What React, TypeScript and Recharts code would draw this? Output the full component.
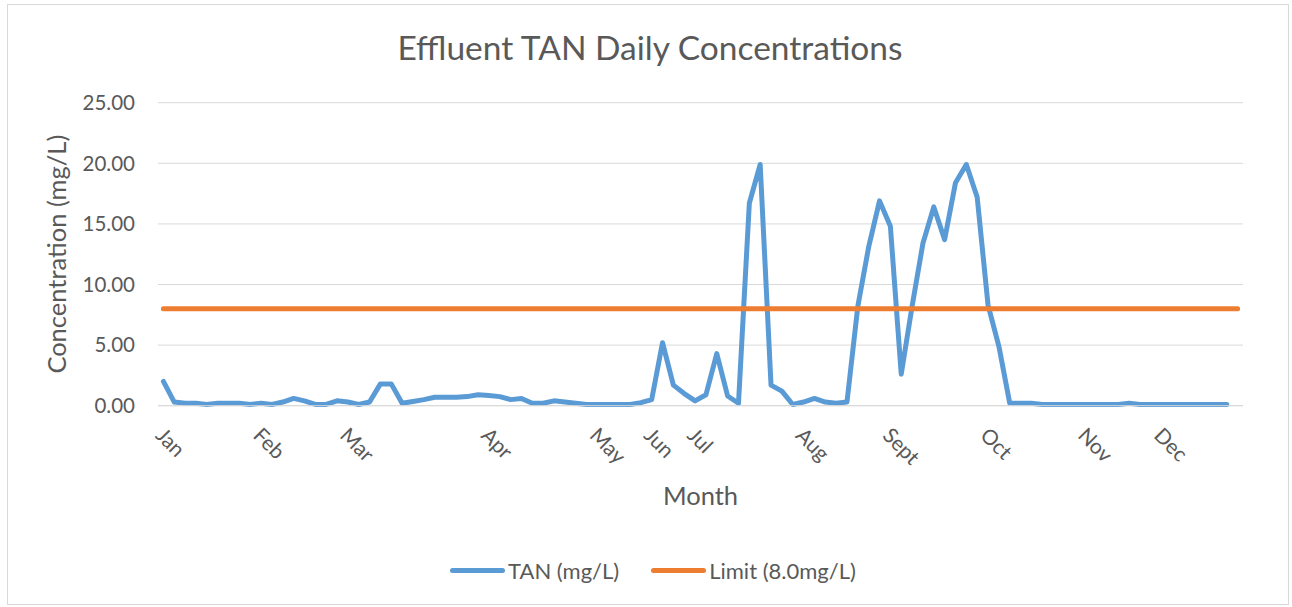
import React from 'react';
import { LineChart, Line, XAxis, YAxis, CartesianGrid, Legend } from 'recharts';

// category axis: 100 daily samples, month label only on the first sample of each month
const monthLabels = ['Jan', 'Feb', 'Mar', 'Apr', 'May', 'Jun', 'Jul', 'Aug', 'Sept', 'Oct', 'Nov', 'Dec'];
const monthStartIndex = [0, 9, 17, 30, 40, 45, 49, 59, 67, 76, 85, 92];
const CATEGORY_COUNT = 100;

// TAN (mg/L), one value per sample
const tanValues = [
    2.0, 0.3, 0.2, 0.2, 0.1, 0.2, 0.2, 0.2, 0.1, 0.2,
    0.1, 0.3, 0.6, 0.4, 0.1, 0.1, 0.4, 0.3, 0.1, 0.3,
    1.8, 1.8, 0.2, 0.35, 0.5, 0.7, 0.7, 0.7, 0.75, 0.9,
    0.85, 0.75, 0.5, 0.6, 0.2, 0.2, 0.4, 0.3, 0.2, 0.1,
    0.1, 0.1, 0.1, 0.1, 0.25, 0.5, 5.2, 1.7, 1.0, 0.4,
    0.9, 4.3, 0.8, 0.2, 16.7, 19.9, 1.7, 1.2, 0.1, 0.3,
    0.6, 0.3, 0.2, 0.3, 8.2, 13.1, 16.9, 14.8, 2.6, 8.2,
    13.4, 16.4, 13.7, 18.4, 19.9, 17.2, 8.3, 4.9, 0.2, 0.2,
    0.2, 0.1, 0.1, 0.1, 0.1, 0.1, 0.1, 0.1, 0.1, 0.2,
    0.1, 0.1, 0.1, 0.1, 0.1, 0.1, 0.1, 0.1, 0.1,
];

const LIMIT = 8.0;
const yTicks = [0, 5, 10, 15, 20, 25];

const categoryLabels = Array.from({ length: CATEGORY_COUNT }, (_, i) => {
    const m = monthStartIndex.indexOf(i);
    return m >= 0 ? monthLabels[m] : '';
});

const data = categoryLabels.map((label, i) => ({
    idx: i,
    label,
    tan: i < tanValues.length ? tanValues[i] : null,
    limit: LIMIT,
}));

const FONT = 'Lato, "Open Sans", sans-serif';
const TEXT = '#595959';
const GRID = '#d9d9d9';
const BLUE = '#5b9bd5';
const ORANGE = '#ed7d31';

const W = 1292;
const H = 607;
const PLOT_LEFT = 158;
const PLOT_RIGHT = 1243;
const PLOT_TOP = 102.7;
const PLOT_BOTTOM = 405.7;
const Y_AXIS_W = 100;
const X_AXIS_H = 60;

const YTick = ({ y, payload }: any) => (
    <text x={PLOT_LEFT - 23} y={y} dy="0.36em" textAnchor="end" fill={TEXT} fontSize={20.5} fontFamily={FONT}>
        {Number(payload.value).toFixed(2)}
    </text>
);

const MonthTick = ({ x, payload }: any) => {
    const label = categoryLabels[payload.value];
    if (!label) return <g />;
    return (
        <g transform={`translate(${x - 9},${PLOT_BOTTOM + 31})`}>
            <text transform="rotate(45)" textAnchor="start" fill={TEXT} fontSize={21} fontFamily={FONT}>
                {label}
            </text>
        </g>
    );
};

const LegendContent = () => (
    <div style={{ display: 'flex', justifyContent: 'center', alignItems: 'center', fontFamily: FONT, fontSize: 22, color: TEXT }}>
        {[
            { name: 'TAN (mg/L)', color: BLUE },
            { name: 'Limit (8.0mg/L)', color: ORANGE },
        ].map((item, i) => (
            <div key={item.name} style={{ display: 'flex', alignItems: 'center', marginLeft: i ? 32 : 0 }}>
                <span style={{ width: 55, height: 5, borderRadius: 3, background: item.color, display: 'inline-block' }} />
                <span style={{ marginLeft: 3 }}>{item.name}</span>
            </div>
        ))}
    </div>
);

const App: React.FC = () => {
    return (
        <div style={{ position: 'absolute', left: 0, top: 0, width: W, height: H, background: '#fff' }}>
            <div
                style={{
                    position: 'absolute', left: 7, top: 4, width: 1282, height: 601,
                    border: `1px solid ${GRID}`, boxSizing: 'border-box',
                }}
            />
            <LineChart
                width={W}
                height={H}
                data={data}
                margin={{ top: PLOT_TOP, right: W - PLOT_RIGHT, left: PLOT_LEFT - Y_AXIS_W, bottom: H - PLOT_BOTTOM - X_AXIS_H }}
                style={{ position: 'absolute', left: 0, top: 0 }}
            >
                <CartesianGrid horizontal vertical={false} stroke={GRID} strokeWidth={1} />
                <XAxis
                    dataKey="idx"
                    type="category"
                    interval={0}
                    height={X_AXIS_H}
                    padding={{ left: 5.4, right: 5.4 }}
                    axisLine={{ stroke: GRID }}
                    tickLine={false}
                    tick={<MonthTick />}
                />
                <YAxis
                    width={Y_AXIS_W}
                    domain={[0, 25]}
                    ticks={yTicks}
                    axisLine={false}
                    tickLine={false}
                    tick={<YTick />}
                />
                <Legend
                    verticalAlign="middle"
                    align="center"
                    layout="horizontal"
                    content={<LegendContent />}
                    wrapperStyle={{ left: 7, top: 557, width: W }}
                />
                <Line
                    dataKey="tan"
                    name="TAN (mg/L)"
                    stroke={BLUE}
                    strokeWidth={5}
                    strokeLinejoin="round"
                    strokeLinecap="round"
                    dot={false}
                    activeDot={false}
                    isAnimationActive={false}
                />
                <Line
                    dataKey="limit"
                    name="Limit (8.0mg/L)"
                    stroke={ORANGE}
                    strokeWidth={5}
                    strokeLinecap="round"
                    dot={false}
                    activeDot={false}
                    isAnimationActive={false}
                />
            </LineChart>
            <svg width={W} height={H} style={{ position: 'absolute', left: 0, top: 0, pointerEvents: 'none' }}>
                <text x={650} y={60} textAnchor="middle" fill={TEXT} fontSize={33.5} fontFamily={FONT}>
                    Effluent TAN Daily Concentrations
                </text>
                <text
                    transform={`translate(66,${(PLOT_TOP + PLOT_BOTTOM) / 2}) rotate(-90)`}
                    textAnchor="middle"
                    fill={TEXT}
                    fontSize={25.5}
                    fontFamily={FONT}
                >
                    Concentration (mg/L)
                </text>
                <text x={(PLOT_LEFT + PLOT_RIGHT) / 2} y={505} textAnchor="middle" fill={TEXT} fontSize={25.5} fontFamily={FONT}>
                    Month
                </text>
            </svg>
        </div>
    );
};

export default App;
